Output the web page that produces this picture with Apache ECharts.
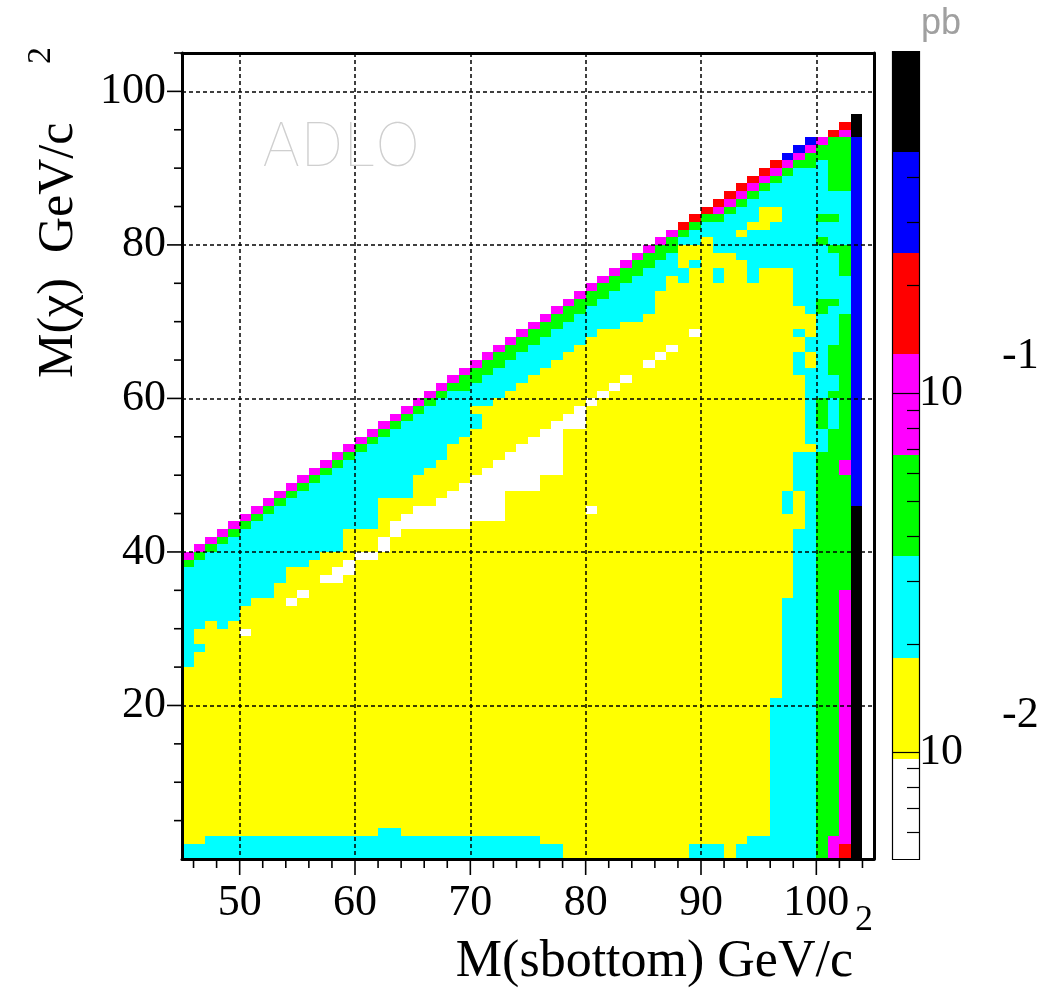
<!DOCTYPE html>
<html>
<head>
<meta charset="utf-8">
<script src="https://cdn.jsdelivr.net/npm/echarts@6/dist/echarts.min.js"></script>
<style>
  html, body { margin: 0; padding: 0; background: #ffffff; }
  #chart { width: 1052px; height: 990px; }
</style>
</head>
<body>
<div id="chart"></div>
<script>
// Cross-section map: M(sbottom) vs M(chi), 1 GeV x 1 GeV bins.
const xFirst = 45;   // lower edge of first M(sbottom) bin, GeV
const binWidth = 1;  // GeV on both axes

// Colour bands of the z scale (pb), lowest to highest
const bandCodes  = 'wycgmrbk';
const bandColors = ['#ffffff', '#ffff00', '#00ffff', '#00ff00', '#ff00ff', '#ff0000', '#0000ff', '#000000'];
const bandEdges  = [0.005, 0.00957, 0.01833, 0.0351, 0.0672, 0.1287, 0.2464, 0.4717, 0.9];
const bandValues = [0.0069, 0.0132, 0.0254, 0.0486, 0.093, 0.178, 0.341, 0.653];

// One string per M(sbottom) bin (45, 46, ...): runs of band code + number of
// M(chi) bins, starting at M(chi) = 0.
const columns = [
  'c2 y23 c13 g1 m1',                 // 45
  'c2 y25 c1 y2 c9 g1 m1',            // 46
  'c3 y28 c9 g1 m1',                  // 47
  'c3 y27 c11 g1 m1',                 // 48
  'c3 y28 c11 g1 m1',                 // 49
  'c3 y26 w1 y3 c10 g1 m1',           // 50
  'c3 y31 c10 g1 m1',                 // 51
  'c3 y31 c11 g1 m1',                 // 52
  'c3 y33 c10 g1 m1',                 // 53
  'c3 y30 w1 y4 c9 g1 m1',            // 54
  'c3 y31 w1 y3 c10 g1 m1',           // 55
  'c3 y36 c10 g1 m1',                 // 56
  'c3 y33 w1 y3 c10 g1 m1',           // 57
  'c3 y33 w2 y2 c11 g1 m1',           // 58
  'c3 y34 w2 y4 c9 g1 m1',            // 59
  'c3 y36 w1 y3 c10 g1 m1',           // 60
  'c3 y36 w1 y3 c11 g1 m1',           // 61
  'c4 y36 w2 y5 c8 g1 m1',            // 62
  'c4 y38 w2 y3 c9 g1 m1',            // 63
  'c3 y40 w2 y2 c10 g1 m1',           // 64
  'c3 y40 w3 y4 c8 g1 m1',            // 65
  'c3 y40 w3 y5 c8 g1 m1',            // 66
  'c3 y40 w4 y5 c8 g1 m1',            // 67
  'c3 y40 w5 y6 c7 g1 m1',            // 68
  'c3 y40 w6 y6 c6 g2 m1',            // 69
  'c3 y41 w6 y6 c2 y1 c3 g2 m1',      // 70
  'c3 y41 w7 y8 c4 g2 m1',            // 71
  'c3 y41 w8 y8 c4 g2 m1',            // 72
  'c3 y45 w5 y8 c4 g2 m1',            // 73
  'c3 y45 w6 y8 c4 g2 m1',            // 74
  'c3 y45 w7 y8 c4 g2 m1',            // 75
  'c2 y48 w6 y8 c4 g2 m1',            // 76
  'c2 y48 w7 y8 c4 g2 m1',            // 77
  'y56 w2 y8 c4 g2 m1',               // 78
  'y56 w3 y8 c4 g2 m1',               // 79
  'y45 w1 y13 w1 y8 c4 g2 m1',        // 80
  'y60 w1 y8 c4 g2 m1',               // 81
  'y61 w1 y7 c5 g2 m1',               // 82
  'y62 w1 y7 c5 g2 m1',               // 83
  'y70 c6 g2 m1',                     // 84
  'y64 w1 y6 c6 g2 m1',               // 85
  'y65 w1 y8 c4 g2 m1',               // 86
  'y66 w1 y9 c3 g2 m1',               // 87
  'y75 c2 y3 c1 g1 r1',               // 88
  'c2 y66 w1 y8 c1 y2 c2 g1 r1',      // 89
  'c2 y79 c2 g1 r1',                  // 90
  'c2 y73 c2 y2 c4 g1 m1 r1',         // 91
  'y79 c5 g1 m1 r1',                  // 92
  'c2 y76 c3 y1 c3 g1 m1 r1',         // 93
  'c3 y72 c7 y1 c3 g1 m1 r1',         // 94
  'c3 y74 c5 y3 c2 g1 m1 r1',         // 95
  'c21 y56 c6 y2 c3 g1 m1 r1',        // 96
  'c34 y11 c3 y29 c12 g1 m1 b1',      // 97
  'c43 y5 c5 y10 c3 y2 c1 y3 c18 g1 m1 b1', // 98
  'c53 y1 c10 y2 c2 y3 c19 g2 m1 b1', // 99
  'g53 c3 g4 c11 g2 c7 g1 c2 g1 c7 g2 m1',          // 100
  'm3 g53 c4 g1 c2 g4 c5 g1 c6 g1 c3 g1 c3 g7 r1',  // 101
  'r2 m33 g15 m2 g19 c5 g4 c7 g7 m1 r1',           // 102
  'k46 b48 k3'                        // 103
];

// Axis ranges and tick positions (GeV)
const xRange = [45, 105];
const yRange = [0, 105];
const xMajorTicks = [50, 60, 70, 80, 90, 100];
const xMinorTicks = [46, 48, 52, 54, 56, 58, 62, 64, 66, 68, 72, 74, 76, 78,
                     82, 84, 86, 88, 92, 94, 96, 98, 102, 104];
const yMajorTicks = [20, 40, 60, 80, 100];
const yMinorTicks = [5, 10, 15, 25, 30, 35, 45, 50, 55, 65, 70, 75, 85, 90, 95, 105];

// z-scale ticks (pb)
const zRange = [0.005, 0.9];
const zMajor = [0.01, 0.1];
const zMinor = [0.006, 0.007, 0.008, 0.009, 0.02, 0.03, 0.04, 0.05, 0.06, 0.07, 0.08, 0.09,
                0.2, 0.3, 0.4, 0.5, 0.6, 0.7, 0.8];

// ---- build series data -------------------------------------------------
const cells = [];
columns.forEach((col, i) => {
  let y = 0;
  col.split(' ').forEach(run => {
    const band = bandCodes.indexOf(run[0]);
    const n = parseInt(run.slice(1), 10);
    for (let k = 0; k < n; k++) {
      cells.push([xFirst + i * binWidth, y, bandValues[band]]);
      y += binWidth;
    }
  });
});

const lg = Math.log10;
const bands = bandValues.map((v, i) => [lg(bandEdges[i]), lg(bandEdges[i + 1]), v]);
const zTicks = zMajor.map(v => [lg(v), 1]).concat(zMinor.map(v => [lg(v), 0]));
const xTicks = xMajorTicks.map(v => [v, 1]).concat(xMinorTicks.map(v => [v, 0]));
const yTicks = yMajorTicks.map(v => [v, 1]).concat(yMinorTicks.map(v => [v, 0]));

const serif = 'Liberation Serif';
const black = '#000000';

const pieces = bandColors.map((c, i) => ({ gte: bandEdges[i], lt: bandEdges[i + 1], color: c }));

const chart = echarts.init(document.getElementById('chart'), null, { renderer: 'canvas' });

chart.setOption({
  backgroundColor: '#ffffff',
  animation: false,
  grid: [
    { left: 182, top: 53, width: 692, height: 806 },
    { left: 892, top: 51, width: 28, height: 809 }
  ],
  visualMap: {
    type: 'piecewise', show: false, seriesIndex: [0, 1], dimension: 2, pieces: pieces
  },
  xAxis: [
    {
      type: 'value', gridIndex: 0, min: xRange[0], max: xRange[1], z: 5,
      axisLine: { show: true, onZero: false, lineStyle: { color: black, width: 3 } },
      axisTick: { show: false },
      axisLabel: { color: black, fontFamily: serif, fontSize: 44, margin: 22,
                   showMinLabel: false, showMaxLabel: false },
      splitLine: { show: true, lineStyle: { color: black, width: 1.5, type: [4, 3] } }
    },
    {
      type: 'value', gridIndex: 0, min: xRange[0], max: xRange[1], position: 'top', z: 6,
      axisLine: { show: true, onZero: false, lineStyle: { color: black, width: 3 } },
      axisTick: { show: false }, axisLabel: { show: false }, splitLine: { show: false }
    },
    { type: 'value', gridIndex: 1, min: 0, max: 1, show: false }
  ],
  yAxis: [
    {
      type: 'value', gridIndex: 0, min: yRange[0], max: yRange[1], interval: 20, z: 5,
      axisLine: { show: true, onZero: false, lineStyle: { color: black, width: 3 } },
      axisTick: { show: false },
      axisLabel: { color: black, fontFamily: serif, fontSize: 44, margin: 16,
                   showMinLabel: false, showMaxLabel: false },
      splitLine: { show: true, lineStyle: { color: black, width: 1.5, type: [4, 3] } }
    },
    {
      type: 'value', gridIndex: 0, min: yRange[0], max: yRange[1], position: 'right', z: 6,
      axisLine: { show: true, onZero: false, lineStyle: { color: black, width: 3 } },
      axisTick: { show: false }, axisLabel: { show: false }, splitLine: { show: false }
    },
    { type: 'value', gridIndex: 1, min: lg(zRange[0]), max: lg(zRange[1]), show: false }
  ],
  series: [
    {
      // map cells
      type: 'custom', xAxisIndex: 0, yAxisIndex: 0, z: 2,
      data: cells,
      renderItem: function (params, api) {
        const x = api.value(0), y = api.value(1);
        const p0 = api.coord([x, y + binWidth]);
        const p1 = api.coord([x + binWidth, y]);
        const x0 = Math.round(p0[0]), x1 = Math.round(p1[0]);
        const y0 = Math.round(p0[1]), y1 = Math.round(p1[1]);
        return {
          type: 'rect',
          shape: { x: x0, y: y0, width: x1 - x0, height: y1 - y0 },
          style: { fill: api.visual('color') }
        };
      }
    },
    {
      // colour scale bands
      type: 'custom', xAxisIndex: 2, yAxisIndex: 2, z: 2,
      data: bands,
      encode: { y: [0, 1] },
      renderItem: function (params, api) {
        const p0 = api.coord([0, api.value(1)]);
        const p1 = api.coord([1, api.value(0)]);
        const y0 = Math.round(p0[1]), y1 = Math.round(p1[1]);
        return {
          type: 'rect',
          shape: { x: p0[0], y: y0, width: p1[0] - p0[0], height: y1 - y0 },
          style: { fill: api.visual('color') }
        };
      }
    },
    {
      // colour scale ticks and labels
      type: 'custom', xAxisIndex: 2, yAxisIndex: 2, z: 4, clip: false,
      data: zTicks,
      renderItem: function (params, api) {
        const v = api.value(0), major = api.value(1) === 1;
        const pR = api.coord([1, v]);
        const pL = api.coord([0, v]);
        const len = major ? (pR[0] - pL[0]) : 13;
        const y = Math.round(pR[1]) + 0.5;
        const children = [{
          type: 'line',
          shape: { x1: pR[0] - len, y1: y, x2: pR[0], y2: y },
          style: { stroke: black, lineWidth: 1.2 }
        }];
        if (major) {
          children.push({
            type: 'text',
            style: { text: '10', x: pR[0] - 1, y: y, fill: black,
                     font: '44px "' + serif + '"', textAlign: 'left', textVerticalAlign: 'middle' }
          });
          children.push({
            type: 'text',
            style: { text: String(Math.round(v)), x: pR[0] + 82, y: y - 37, fill: black,
                     font: '44px "' + serif + '"', textAlign: 'left', textVerticalAlign: 'middle' }
          });
        }
        return { type: 'group', children: children };
      }
    },
    {
      // colour scale outline
      type: 'custom', xAxisIndex: 2, yAxisIndex: 2, z: 5, clip: false,
      data: [[0]],
      renderItem: function (params, api) {
        const p0 = api.coord([0, lg(zRange[1])]);
        const p1 = api.coord([1, lg(zRange[0])]);
        return {
          type: 'rect',
          shape: { x: p0[0] + 0.5, y: p0[1] + 0.5, width: p1[0] - p0[0] - 1, height: p1[1] - p0[1] - 1 },
          style: { fill: null, stroke: black, lineWidth: 1.2 }
        };
      }
    },
    {
      // M(sbottom) axis ticks, pointing out of the frame
      type: 'custom', xAxisIndex: 0, yAxisIndex: 0, z: 6, clip: false,
      data: xTicks,
      renderItem: function (params, api) {
        const p = api.coord([api.value(0), yRange[0]]);
        const len = api.value(1) === 1 ? 15 : 8;
        return {
          type: 'line',
          shape: { x1: p[0], y1: p[1] + 1, x2: p[0], y2: p[1] + 1 + len },
          style: { stroke: black, lineWidth: 1.6 }
        };
      }
    },
    {
      // M(chi) axis ticks
      type: 'custom', xAxisIndex: 0, yAxisIndex: 0, z: 6, clip: false,
      data: yTicks,
      encode: { y: 0 },
      renderItem: function (params, api) {
        const p = api.coord([xRange[0], api.value(0)]);
        const len = api.value(1) === 1 ? 14 : 7;
        return {
          type: 'line',
          shape: { x1: p[0] - 1 - len, y1: p[1], x2: p[0] - 1, y2: p[1] },
          style: { stroke: black, lineWidth: 1.6 }
        };
      }
    }
  ],
  graphic: [
    {
      type: 'text', left: 262, top: 118, z: 10,
      style: { text: 'ADLO', fill: '#cfcfcf', font: '100 60px Inter, "Liberation Sans", sans-serif' }
    },
    {
      type: 'text', left: 921, top: 6, z: 10,
      style: { text: 'pb', fill: '#a0a0a0', font: '300 36px "Liberation Sans", sans-serif' }
    },
    {
      type: 'text', z: 10,
      style: { text: 'M(sbottom) GeV/c', x: 853, y: 962, fill: black, textAlign: 'right',
               textVerticalAlign: 'middle', font: '52px "' + serif + '"' }
    },
    {
      type: 'text', z: 10,
      style: { text: '2', x: 855, y: 921, fill: black, textAlign: 'left',
               textVerticalAlign: 'middle', font: '36px "' + serif + '"' }
    },
    {
      type: 'group', x: 34, y: 378, rotation: Math.PI / 2, z: 10,
      children: [
        { type: 'text', x: 0, y: 0,
          style: { text: 'M(\u03c7)  GeV/c', fill: black, font: '50px "' + serif + '"' } },
        { type: 'text', x: 314, y: -10,
          style: { text: '2', fill: black, font: '34px "' + serif + '"' } }
      ]
    }
  ]
});
</script>
</body>
</html>
